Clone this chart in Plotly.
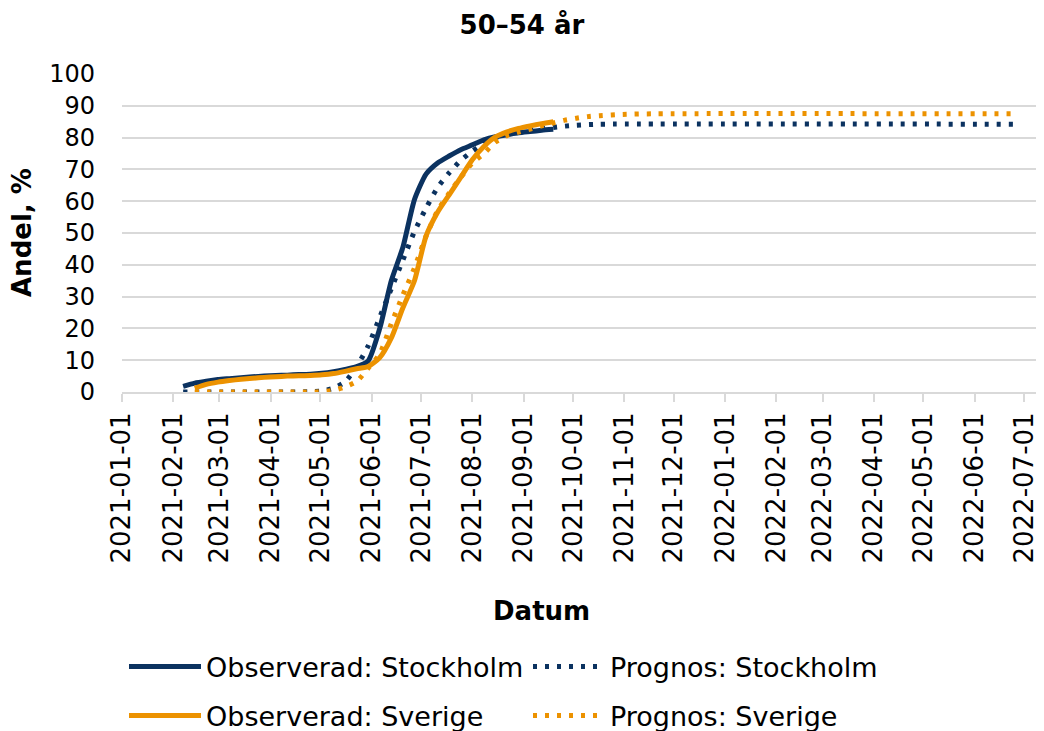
import plotly.graph_objects as go

# ---------------- data ----------------
obs_sthlm_dates = ["2021-02-07", "2021-02-14", "2021-02-21", "2021-02-28", "2021-03-07", "2021-03-14",
                   "2021-03-21", "2021-03-28", "2021-04-04", "2021-04-11", "2021-04-18", "2021-04-25",
                   "2021-05-02", "2021-05-09", "2021-05-16", "2021-05-23", "2021-05-30", "2021-06-06",
                   "2021-06-13", "2021-06-20", "2021-06-27", "2021-07-04", "2021-07-11", "2021-07-18",
                   "2021-07-25", "2021-08-01", "2021-08-08", "2021-08-15", "2021-08-22", "2021-08-29",
                   "2021-09-05", "2021-09-12", "2021-09-19"]
obs_sthlm_vals = [1.8, 2.8, 3.4, 3.9, 4.2, 4.5, 4.8, 5.0, 5.2, 5.3, 5.5, 5.6,
                  5.9, 6.4, 7.1, 8.0, 9.8, 20.0, 35.0, 45.5, 60.5, 68.5, 72.0, 74.2,
                  76.2, 77.7, 79.3, 80.3, 80.9, 81.5, 81.9, 82.3, 82.6]

obs_sve_dates = ["2021-02-14", "2021-02-21", "2021-02-28", "2021-03-07", "2021-03-14", "2021-03-21",
                 "2021-03-28", "2021-04-04", "2021-04-11", "2021-04-18", "2021-04-25", "2021-05-02",
                 "2021-05-09", "2021-05-16", "2021-05-23", "2021-05-30", "2021-06-06", "2021-06-13",
                 "2021-06-20", "2021-06-27", "2021-07-04", "2021-07-11", "2021-07-18", "2021-07-25",
                 "2021-08-01", "2021-08-08", "2021-08-15", "2021-08-22", "2021-08-29", "2021-09-05",
                 "2021-09-12", "2021-09-19"]
obs_sve_vals = [1.2, 2.4, 3.1, 3.6, 4.0, 4.3, 4.6, 4.8, 5.0, 5.1, 5.2, 5.4,
                5.8, 6.5, 7.3, 8.0, 10.8, 17.0, 26.5, 35.0, 49.0, 56.5, 62.0, 67.5,
                73.0, 77.2, 80.2, 81.8, 82.9, 83.7, 84.4, 85.0]

prog_sthlm_dates = ["2021-02-07", "2021-03-07", "2021-04-04", "2021-04-25", "2021-05-02", "2021-05-09",
                    "2021-05-16", "2021-05-23", "2021-05-30", "2021-06-06", "2021-06-13", "2021-06-20",
                    "2021-06-27", "2021-07-04", "2021-07-11", "2021-07-18", "2021-07-25", "2021-08-01",
                    "2021-08-08", "2021-08-15", "2021-08-22", "2021-08-29", "2021-09-05", "2021-09-12",
                    "2021-09-19", "2021-09-26", "2021-10-03", "2021-10-17", "2022-06-27"]
prog_sthlm_vals = [0.0, 0.0, 0.0, 0.1, 0.3, 1.2,
                   3.2, 8.0, 14.5, 23.5, 32.5, 41.5,
                   50.5, 57.8, 64.3, 68.9, 72.8, 75.7,
                   78.2, 80.0, 81.0, 81.7, 82.3, 82.8,
                   83.2, 83.6, 83.9, 84.2, 84.2]

prog_sve_dates = ["2021-02-14", "2021-03-14", "2021-04-11", "2021-04-25", "2021-05-02", "2021-05-09",
                  "2021-05-16", "2021-05-23", "2021-05-30", "2021-06-06", "2021-06-13", "2021-06-20",
                  "2021-06-27", "2021-07-04", "2021-07-11", "2021-07-18", "2021-07-25", "2021-08-01",
                  "2021-08-08", "2021-08-15", "2021-08-22", "2021-08-29", "2021-09-05", "2021-09-12",
                  "2021-09-19", "2021-09-26", "2021-10-03", "2021-10-10", "2021-10-17", "2021-10-31",
                  "2021-11-21", "2022-06-27"]
prog_sve_vals = [0.0, 0.0, 0.0, 0.0, 0.1, 0.5,
                 1.6, 3.3, 7.5, 12.0, 21.5, 30.5,
                 39.0, 49.0, 57.0, 62.5, 67.5, 72.0,
                 75.0, 78.6, 80.6, 81.7, 82.7, 83.7,
                 84.6, 85.5, 86.1, 86.6, 86.9, 87.3,
                 87.5, 87.5]

tick_dates = ["2021-01-01", "2021-02-01", "2021-03-01", "2021-04-01", "2021-05-01", "2021-06-01",
              "2021-07-01", "2021-08-01", "2021-09-01", "2021-10-01", "2021-11-01", "2021-12-01",
              "2022-01-01", "2022-02-01", "2022-03-01", "2022-04-01", "2022-05-01", "2022-06-01",
              "2022-07-01"]
y_ticks = [0, 10, 20, 30, 40, 50, 60, 70, 80, 90, 100]

# ---------------- style ----------------
NAVY = "#0B3260"
ORANGE = "#EC9200"
GRID = "#D9D9D9"
FONT = "DejaVu Sans, Verdana, sans-serif"
DOT = "4px,8px"

# the page body adds an 8px margin, so the figure is 8px smaller and all
# positions are expressed in figure pixels (= screen pixels - 8)
W, H = 1036, 723
L, R, T, B = 114, 0, 66, 339
PW = W - L - R
PH = H - T - B


def px_x(x):
    return (x - L) / PW


def px_y(y):
    return (H - B - y) / PH


fig = go.Figure()
fig.add_trace(go.Scatter(x=obs_sthlm_dates, y=obs_sthlm_vals, mode="lines",
                         name="Observerad: Stockholm", legend="legend",
                         line=dict(color=NAVY, width=5, shape="spline", smoothing=0.6)))
fig.add_trace(go.Scatter(x=prog_sthlm_dates, y=prog_sthlm_vals, mode="lines",
                         name="Prognos: Stockholm", legend="legend",
                         line=dict(color=NAVY, width=5, dash=DOT, shape="spline", smoothing=0.6)))
fig.add_trace(go.Scatter(x=obs_sve_dates, y=obs_sve_vals, mode="lines",
                         name="Observerad: Sverige", legend="legend2",
                         line=dict(color=ORANGE, width=5, shape="spline", smoothing=0.6)))
fig.add_trace(go.Scatter(x=prog_sve_dates, y=prog_sve_vals, mode="lines",
                         name="Prognos: Sverige", legend="legend2",
                         line=dict(color=ORANGE, width=5, dash=DOT, shape="spline", smoothing=0.6)))

legend_common = dict(orientation="h", xanchor="left", yanchor="middle",
                     xref="container", yref="container",
                     font=dict(family=FONT, size=27, color="#000000"),
                     itemwidth=72, entrywidth=317, entrywidthmode="pixels",
                     bgcolor="rgba(0,0,0,0)", borderwidth=0, itemclick=False, itemdoubleclick=False)

fig.update_layout(
    width=W, height=H,
    margin=dict(l=L, r=R, t=T, b=B, pad=0, autoexpand=False),
    paper_bgcolor="white", plot_bgcolor="white",
    font=dict(family=FONT, color="#000000"),
    showlegend=True,
    title=dict(text="<b>50–54 år</b>", x=514 / W, xref="container", xanchor="center",
               y=1 - 17 / H, yref="container", yanchor="middle",
               font=dict(family=FONT, size=26, color="#000000")),
    legend=dict(x=116 / W, y=1 - 659 / H, **legend_common),
    legend2=dict(x=116 / W, y=1 - 708 / H, **legend_common),
    xaxis=dict(type="date", range=["2021-01-01", "2022-07-13"], automargin=False,
               tickvals=tick_dates, ticktext=tick_dates, tickangle=-90,
               ticks="outside", ticklen=8, tickwidth=2, tickcolor=GRID,
               showgrid=False, zeroline=False, showline=True, linecolor=GRID, linewidth=2,
               tickfont=dict(family=FONT, size=26, color="#000000")),
    yaxis=dict(range=[0, 100], tickvals=y_ticks, ticks="", showgrid=True, automargin=False,
               gridcolor=GRID, gridwidth=2, zeroline=False, showline=False,
               ticklabelstandoff=26,
               tickfont=dict(family=FONT, size=24, color="#000000")),
    annotations=[
        dict(text="<b>Andel, %</b>", x=px_x(14), y=0.5, xref="paper", yref="paper",
             xanchor="center", yanchor="middle", textangle=-90, showarrow=False,
             font=dict(family=FONT, size=26, color="#000000")),
        dict(text="<b>Datum</b>", x=px_x(533), y=px_y(603), xref="paper", yref="paper",
             xanchor="center", yanchor="middle", showarrow=False,
             font=dict(family=FONT, size=26, color="#000000")),
    ],
)

fig.write_html("out.html")
